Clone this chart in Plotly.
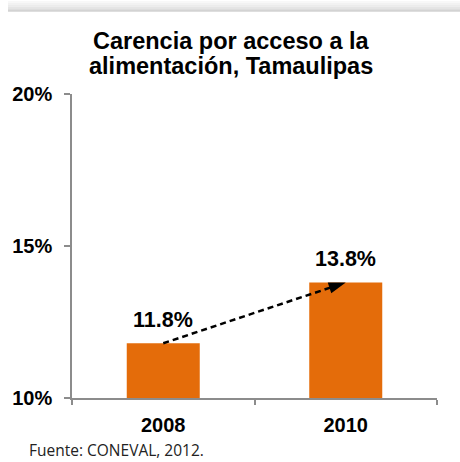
import plotly.graph_objects as go

# ---- data ----
years = ["2008", "2010"]
values = [11.8, 13.8]
value_labels = ["11.8%", "13.8%"]
y_ticks = [10, 15, 20]
y_tick_labels = ["10%", "15%", "20%"]
title_lines = ["Carencia por acceso a la", "alimentación, Tamaulipas"]
source_text = "Fuente: CONEVAL, 2012."

W, H = 460, 462
ML, MR, MT, MB = 72, 23, 94, 64
PW = W - ML - MR
PH = H - MT - MB

def px_x(px):
    return (px - ML) / PW

def px_y(py):
    return (H - MB - py) / PH

FONT = "Liberation Sans, Arial, sans-serif"
ORANGE = "#E46C0A"
AXIS_GRAY = "#8C8C8C"

fig = go.Figure()
fig.add_trace(go.Bar(
    x=years, y=values, marker=dict(color=ORANGE, line=dict(width=0)),
    width=0.4, hoverinfo="skip", showlegend=False,
))
# dashed arrow between bar tops
fig.add_trace(go.Scatter(
    x=years, y=values, mode="lines+markers",
    line=dict(color="black", width=2.5, dash="6px,4px"),
    marker=dict(symbol=["circle", "arrow"], size=[0, 18], angleref="previous",
                color="black", opacity=1, line=dict(width=0)),
    hoverinfo="skip", showlegend=False, cliponaxis=False,
))

annotations = []
for i, (v, lab) in enumerate(zip(values, value_labels)):
    annotations.append(dict(x=i, y=v, xref="x", yref="y", text="<b>%s</b>" % lab,
                            showarrow=False, yanchor="bottom", yshift=9,
                            font=dict(family=FONT, size=21.5, color="black")))
annotations.append(dict(x=px_x(231), y=px_y(41), xref="paper", yref="paper",
                        text="<b>%s</b>" % title_lines[0], showarrow=False,
                        xanchor="center", yanchor="middle",
                        font=dict(family=FONT, size=23.5, color="black")))
annotations.append(dict(x=px_x(231), y=px_y(65.5), xref="paper", yref="paper",
                        text="<b>%s</b>" % title_lines[1], showarrow=False,
                        xanchor="center", yanchor="middle",
                        font=dict(family=FONT, size=23.5, color="black")))
annotations.append(dict(x=px_x(27), y=px_y(450), xref="paper", yref="paper",
                        text=source_text, showarrow=False,
                        xanchor="left", yanchor="middle",
                        font=dict(family="Open Sans, sans-serif", size=15.5, color="#222222")))

# top shadow band (gradient approximation)
shapes = []
grays = ["#f8f8f8", "#f2f2f2", "#ececec", "#e5e5e5", "#dddddd", "#d3d3d3"]
for i, g in enumerate(grays):
    y0 = 1 + i * 1.8
    y1 = y0 + 1.8
    shapes.append(dict(type="rect", xref="paper", yref="paper",
                       x0=px_x(8), x1=px_x(460), y0=px_y(y1), y1=px_y(y0),
                       fillcolor=g, line=dict(width=0), layer="below"))

fig.update_layout(
    width=W, height=H,
    margin=dict(l=ML, r=MR, t=MT, b=MB, pad=0),
    paper_bgcolor="white", plot_bgcolor="white",
    bargap=0.6,
    annotations=annotations,
    shapes=shapes,
    xaxis=dict(
        type="category", categoryorder="array", categoryarray=years,
        range=[-0.5, len(years) - 0.5], autorange=False,
        showline=True, linecolor=AXIS_GRAY, linewidth=1.5,
        ticks="outside", tickson="boundaries", ticklen=5, tickcolor=AXIS_GRAY, tickwidth=1.5,
        tickfont=dict(family=FONT, size=20, color="black"),
        tickprefix="<b>", ticksuffix="</b>",
        showgrid=False, zeroline=False, ticklabelstandoff=8,
    ),
    yaxis=dict(
        range=[10, 20], autorange=False, tickvals=y_ticks,
        ticktext=["<b>%s</b>" % t for t in y_tick_labels],
        showline=True, linecolor=AXIS_GRAY, linewidth=1.5,
        ticks="outside", ticklen=6, tickcolor=AXIS_GRAY, tickwidth=1.5,
        tickfont=dict(family=FONT, size=20, color="black"),
        showgrid=False, zeroline=False, ticklabelstandoff=8,
    ),
)

fig.write_html(
    "out.html",
    config={"displayModeBar": False},
    post_script="document.body.style.margin='0';document.body.style.overflow='hidden';",
)
